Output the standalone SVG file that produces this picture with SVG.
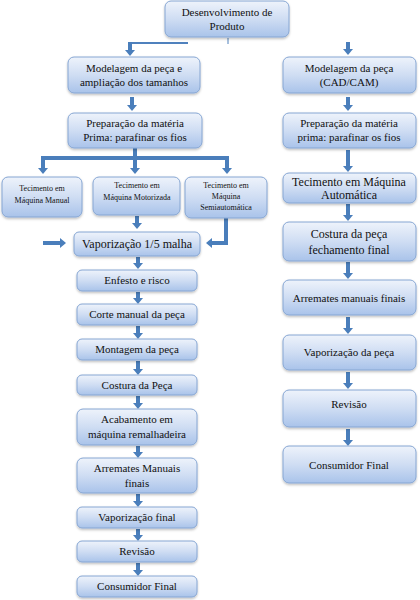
<svg xmlns="http://www.w3.org/2000/svg" width="420" height="600" viewBox="0 0 420 600">
<defs>
<linearGradient id="g" x1="0" y1="0" x2="0" y2="1">
<stop offset="0" stop-color="#eef3fb"/>
<stop offset="0.5" stop-color="#cfddf3"/>
<stop offset="1" stop-color="#a9c3ea"/>
</linearGradient>
<filter id="sh" x="-10%" y="-10%" width="120%" height="130%">
<feDropShadow dx="0" dy="1.5" stdDeviation="1" flood-color="#000" flood-opacity="0.25"/>
</filter>
<marker id="ah" viewBox="0 0 6 10" refX="0" refY="5" markerWidth="6" markerHeight="10" orient="auto" markerUnits="userSpaceOnUse">
<path d="M0,0 L6,5 L0,10 Z" fill="#4a7ebb"/>
</marker>
</defs>
<style>
rect.b{fill:url(#g);stroke:#86a6d3;stroke-width:1;filter:url(#sh)}
text{font-family:"Liberation Serif","Times New Roman",serif;font-size:11px;fill:#111;text-anchor:middle}
text.s{font-size:8px}
text.m{font-size:12px}
.a{stroke:#4a7ebb;stroke-width:4;fill:none;marker-end:url(#ah)}
.l{stroke:#4a7ebb;stroke-width:4;fill:none}
.t{stroke:#4f81bd;stroke-width:2;fill:none}
</style>
<rect width="420" height="600" fill="#fff"/>
<g id="connectors">
<line class="t" x1="128" y1="43" x2="188" y2="43"/>
<line x1="228" y1="38" x2="228" y2="44" stroke="#4f81bd" stroke-width="1"/>
<line class="a" x1="130" y1="42" x2="130" y2="50"/>
<line class="a" x1="348" y1="42" x2="348" y2="49"/>
<line class="a" x1="132" y1="97" x2="132" y2="105"/>
<line class="a" x1="348" y1="97" x2="348" y2="105"/>
<line class="l" x1="135" y1="148" x2="135" y2="158"/>
<line class="l" x1="41" y1="158" x2="229" y2="158"/>
<line class="a" x1="43" y1="156" x2="43" y2="168"/>
<line class="a" x1="135" y1="156" x2="135" y2="168"/>
<line class="a" x1="227" y1="156" x2="227" y2="168"/>
<line class="a" x1="348" y1="150" x2="348" y2="166"/>
<line class="a" x1="348" y1="204" x2="348" y2="215"/>
<line class="a" x1="348" y1="262" x2="348" y2="273"/>
<line class="a" x1="348" y1="317" x2="348" y2="328"/>
<line class="a" x1="348" y1="372" x2="348" y2="383"/>
<line class="a" x1="348" y1="429" x2="348" y2="440"/>
<line class="a" x1="137" y1="216" x2="137" y2="223"/>
<line class="a" x1="43" y1="243" x2="60" y2="243"/>
<polyline class="a" points="226,218 226,243 212,243"/>
<line class="a" x1="138" y1="257" x2="138" y2="263"/>
<line class="a" x1="138" y1="292" x2="138" y2="298"/>
<line class="a" x1="138" y1="326" x2="138" y2="333"/>
<line class="a" x1="138" y1="361" x2="138" y2="369"/>
<line class="a" x1="138" y1="396" x2="138" y2="403"/>
<line class="a" x1="138" y1="446" x2="138" y2="452"/>
<line class="a" x1="138" y1="494" x2="138" y2="501"/>
<line class="a" x1="138" y1="529" x2="138" y2="535"/>
<line class="a" x1="138" y1="563" x2="138" y2="570"/>
</g>
<g id="n-desenvolvimento"><rect class="b" x="165" y="1" width="124" height="36" rx="6"/><text x="227" y="16">Desenvolvimento  de</text><text x="227" y="30">Produto</text></g>
<g id="n-modelagem-l"><rect class="b" x="68" y="57" width="132" height="36" rx="6"/><text x="134" y="72">Modelagem  da peça e</text><text x="134" y="86">ampliação  dos tamanhos</text></g>
<g id="n-modelagem-r"><rect class="b" x="283" y="57" width="133" height="36" rx="6"/><text x="349" y="72">Modelagem  da peça</text><text x="349" y="86">(CAD/CAM)</text></g>
<g id="n-prep-l"><rect class="b" x="68" y="113" width="134" height="35" rx="6"/><text x="135" y="127">Preparação da matéria</text><text x="135" y="141">Prima:  parafinar  os fios</text></g>
<g id="n-prep-r"><rect class="b" x="283" y="113" width="133" height="35" rx="6"/><text x="349" y="127">Preparação da matéria</text><text x="349" y="141">prima:  parafinar  os fios</text></g>
<g id="n-tec-manual"><rect class="b" x="2" y="177" width="80" height="40" rx="6"/><text class="s" x="42" y="191">Tecimento em</text><text class="s" x="42" y="203">Máquina Manual</text></g>
<g id="n-tec-motor"><rect class="b" x="93" y="177" width="87" height="38" rx="6"/><text class="s" x="137" y="188">Tecimento em</text><text class="s" x="137" y="200">Máquina Motorizada</text></g>
<g id="n-tec-semi"><rect class="b" x="185" y="177" width="82" height="41" rx="6"/><text class="s" x="226" y="188">Tecimento em</text><text class="s" x="226" y="199">Máquina</text><text class="s" x="226" y="210">Semiautomática</text></g>
<g id="n-tec-auto"><rect class="b" x="283" y="173" width="133" height="30" rx="6"/><text class="m" x="349" y="186">Tecimento  em Máquina</text><text class="m" x="349" y="199">Automática</text></g>
<g id="n-vapor-15"><rect class="b" x="74" y="232" width="126" height="24" rx="5"/><text class="m" x="137" y="248">Vaporização  1/5 malha</text></g>
<g id="n-costura-r"><rect class="b" x="283" y="222" width="133" height="39" rx="6"/><text class="m" x="349" y="238">Costura da peça</text><text class="m" x="349" y="254">fechamento  final</text></g>
<g id="n-enfesto"><rect class="b" x="77" y="270" width="120" height="21" rx="5"/><text x="137" y="284">Enfesto  e risco</text></g>
<g id="n-corte"><rect class="b" x="77" y="304" width="120" height="21" rx="5"/><text x="137" y="318">Corte manual  da peça</text></g>
<g id="n-montagem"><rect class="b" x="77" y="339" width="120" height="21" rx="5"/><text x="137" y="353">Montagem  da peça</text></g>
<g id="n-costura-l"><rect class="b" x="77" y="375" width="120" height="20" rx="5"/><text x="137" y="389">Costura  da Peça</text></g>
<g id="n-acabamento"><rect class="b" x="77" y="409" width="120" height="36" rx="6"/><text x="137" y="423">Acabamento  em</text><text x="137" y="438">máquina  remalhadeira</text></g>
<g id="n-arremates-l"><rect class="b" x="77" y="458" width="120" height="35" rx="6"/><text x="137" y="472">Arremates  Manuais</text><text x="137" y="487">finais</text></g>
<g id="n-vapor-final"><rect class="b" x="77" y="507" width="120" height="21" rx="5"/><text x="137" y="521">Vaporização  final</text></g>
<g id="n-revisao-l"><rect class="b" x="77" y="541" width="120" height="21" rx="5"/><text x="137" y="555">Revisão</text></g>
<g id="n-consumidor-l"><rect class="b" x="77" y="576" width="120" height="21" rx="5"/><text x="137" y="590">Consumidor  Final</text></g>
<g id="n-arremates-r"><rect class="b" x="283" y="280" width="133" height="35" rx="6"/><text x="349" y="302">Arremates  manuais  finais</text></g>
<g id="n-vapor-r"><rect class="b" x="283" y="335" width="133" height="35" rx="6"/><text x="349" y="356">Vaporização  da peça</text></g>
<g id="n-revisao-r"><rect class="b" x="283" y="390" width="133" height="37" rx="6"/><text x="349" y="408">Revisão</text></g>
<g id="n-consumidor-r"><rect class="b" x="283" y="446" width="133" height="37" rx="6"/><text x="349" y="469">Consumidor  Final</text></g>
</svg>
